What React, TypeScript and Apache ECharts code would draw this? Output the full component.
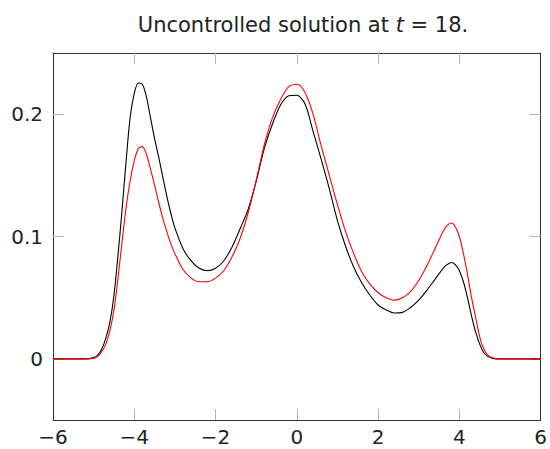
import React, { useEffect, useRef } from "react";
import * as echarts from "echarts";

const xValues = [
  -6, -5.6, -5.2, -5.0, -4.9, -4.8, -4.7, -4.6, -4.5, -4.4, -4.3, -4.2, -4.1, -4.0,
  -3.9, -3.8, -3.7, -3.6, -3.5, -3.4, -3.3, -3.2, -3.1, -3.0, -2.8, -2.6, -2.4, -2.2,
  -2.0, -1.8, -1.6, -1.4, -1.2, -1.0, -0.8, -0.6, -0.4, -0.2, 0, 0.2, 0.4, 0.6, 0.8,
  1.0, 1.2, 1.4, 1.6, 1.8, 2.0, 2.2, 2.4, 2.6, 2.8, 3.0, 3.2, 3.4, 3.6, 3.7, 3.8, 3.9,
  4.0, 4.1, 4.2, 4.3, 4.4, 4.5, 4.6, 4.7, 4.8, 4.9, 5.0, 5.4, 6.0,
];

const blackValues = [
  0, 0, 0, 0.001, 0.003, 0.008, 0.017, 0.03, 0.052, 0.085, 0.122, 0.162, 0.198, 0.217,
  0.2255, 0.2245, 0.214, 0.197, 0.18, 0.165, 0.149, 0.133, 0.119, 0.107, 0.09, 0.08, 0.074, 0.072,
  0.074, 0.08, 0.091, 0.106, 0.122, 0.145, 0.172, 0.192, 0.2075, 0.215, 0.2155, 0.2085, 0.186, 0.163, 0.139,
  0.113, 0.092, 0.075, 0.062, 0.052, 0.044, 0.04, 0.0375, 0.038, 0.042, 0.048, 0.056, 0.065, 0.074, 0.077, 0.0787, 0.077,
  0.072, 0.063, 0.05, 0.035, 0.022, 0.012, 0.005, 0.002, 0.0005, 0, 0, 0, 0,
];

const redValues = [
  0, 0, 0, 0.0005, 0.002, 0.006, 0.012, 0.023, 0.04, 0.066, 0.096, 0.124, 0.146, 0.162,
  0.172, 0.1735, 0.167, 0.155, 0.142, 0.128, 0.115, 0.104, 0.094, 0.086, 0.073, 0.066, 0.063, 0.063,
  0.066, 0.072, 0.083, 0.098, 0.119, 0.146, 0.175, 0.197, 0.212, 0.2225, 0.2245, 0.218, 0.2, 0.174, 0.15,
  0.126, 0.104, 0.086, 0.071, 0.061, 0.054, 0.05, 0.048, 0.05, 0.055, 0.064, 0.076, 0.09, 0.104, 0.109, 0.111, 0.108,
  0.1, 0.086, 0.069, 0.05, 0.034, 0.018, 0.008, 0.003, 0.001, 0.0002, 0, 0, 0,
];

const xTickValues = [-4, -2, 0, 2, 4];
const yTickValues = [0, 0.1, 0.2];

const FONT = "DejaVu Sans";

export default function App() {
  const ref = useRef<HTMLDivElement>(null);
  useEffect(() => {
    if (!ref.current) return;
    const chart = echarts.init(ref.current, null, { renderer: "svg" });
    const frame = { show: true, onZero: false, lineStyle: { color: "#333", width: 1 } };
    const tick = { show: true, inside: true, length: 11, lineStyle: { color: "#b4b4b4", width: 1 } };
    const minus = (v: number) => String(v).replace("-", "\u2212");
    chart.setOption({
      animation: false,
      title: {
        text: "Uncontrolled solution at {i|t} = 18.",
        left: 298,
        top: 9,
        textAlign: "center",
        textStyle: {
          fontFamily: FONT,
          fontSize: 21,
          fontWeight: "normal",
          color: "#222",
          rich: { i: { fontFamily: FONT, fontSize: 21, fontStyle: "italic", color: "#222" } },
        },
      },
      grid: { left: 53, right: 7, top: 53, bottom: 29, containLabel: false },
      xAxis: [
        {
          type: "value", min: -6, max: 6, interval: 2, position: "bottom",
          axisLine: frame,
          axisTick: { ...tick, customValues: xTickValues },
          splitLine: { show: false },
          axisLabel: { fontFamily: FONT, fontSize: 20, color: "#222", margin: 7, formatter: minus },
        },
        {
          type: "value", min: -6, max: 6, interval: 2, position: "top",
          axisLine: frame,
          axisTick: { ...tick, customValues: xTickValues },
          splitLine: { show: false },
          axisLabel: { show: false },
        },
      ],
      yAxis: [
        {
          type: "value", min: -0.05, max: 0.25, position: "left",
          axisLine: frame,
          axisTick: { ...tick, customValues: yTickValues },
          splitLine: { show: false },
          axisLabel: { fontFamily: FONT, fontSize: 20, color: "#222", margin: 10, customValues: yTickValues },
        },
        {
          type: "value", min: -0.05, max: 0.25, position: "right",
          axisLine: frame,
          axisTick: { ...tick, customValues: yTickValues },
          splitLine: { show: false },
          axisLabel: { show: false },
        },
      ],
      series: [
        {
          type: "line",
          name: "black",
          data: xValues.map((x, i) => [x, blackValues[i]]),
          showSymbol: false,
          smooth: 0.3,
          lineStyle: { color: "#000", width: 1.1 },
          itemStyle: { color: "#000" },
        },
        {
          type: "line",
          name: "red",
          data: xValues.map((x, i) => [x, redValues[i]]),
          showSymbol: false,
          smooth: 0.3,
          lineStyle: { color: "#ff0000", width: 1.1 },
          itemStyle: { color: "#ff0000" },
        },
      ],
    });
    return () => chart.dispose();
  }, []);
  return <div ref={ref} style={{ width: 550, height: 449, position: "absolute", left: 0, top: 0 }} />;
}
